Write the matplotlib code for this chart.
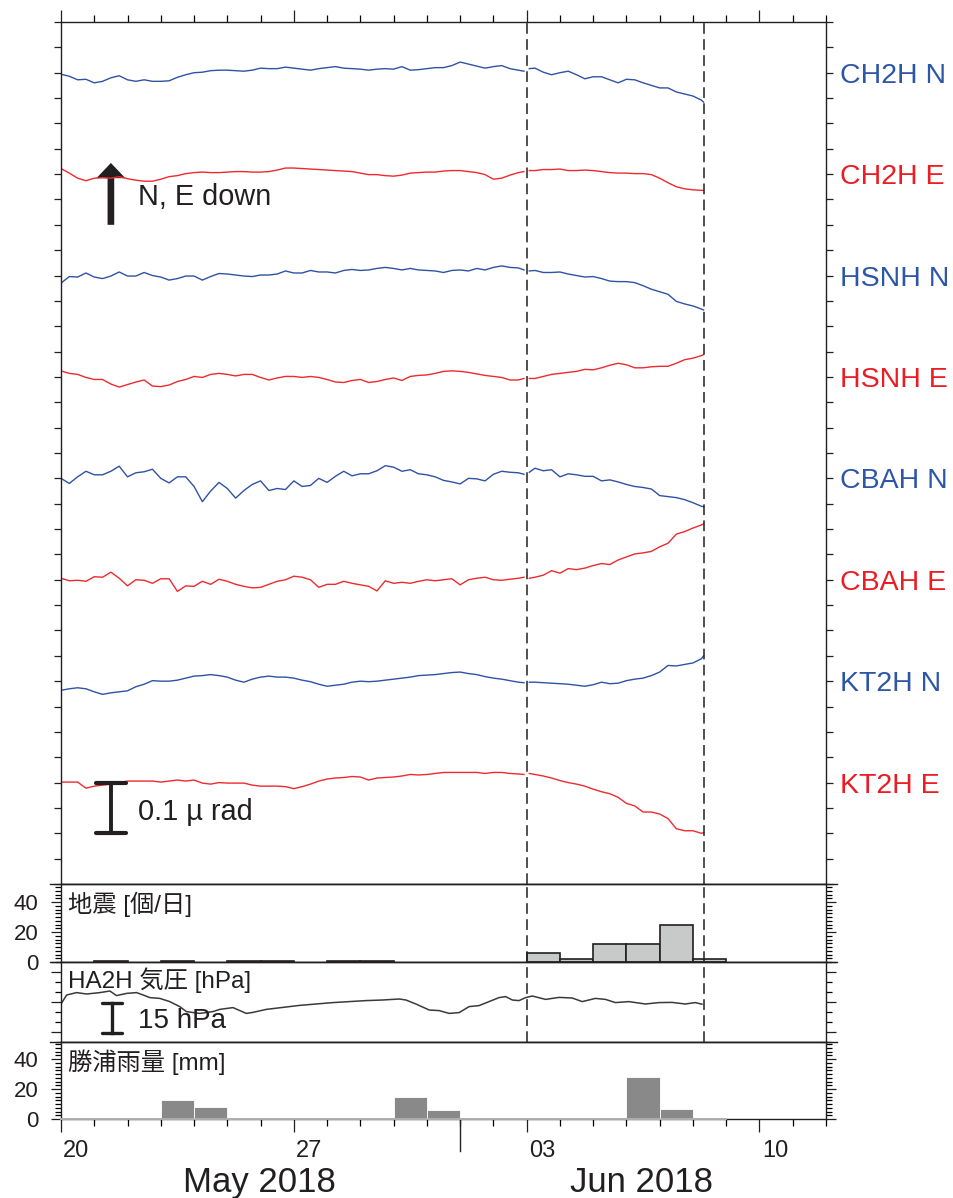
import numpy as np
import matplotlib
matplotlib.use('Agg')
import matplotlib.pyplot as plt
from matplotlib.ticker import MultipleLocator, FixedLocator, NullFormatter
import matplotlib.transforms as mtransforms
from matplotlib.lines import Line2D

plt.rcParams['font.family'] = ['Liberation Sans', 'Noto Sans CJK JP', 'DejaVu Sans']

INK = '#231f20'
BLUE = '#2f52a4'
RED = '#ee2a2e'
BLUE_TXT = '#2e56a6'
RED_TXT = '#ec1c24'

START = np.datetime64('2018-05-20')


def day(d):
    return (np.datetime64(d) - START) / np.timedelta64(1, 'D')


# ---- tilt data (nrad, relative to each trace's baseline) ----
# sampling: segment A up to 3 Jun gap, segment B after
DAYS_A = np.r_[np.arange(0, 13.8, 0.25), 13.92]
DAYS_B = np.r_[14.08, np.arange(14.25, 19.26, 0.25), 19.32]
N_A = len(DAYS_A)

TRACE_NAMES = ['CH2H N', 'CH2H E', 'HSNH N', 'HSNH E',
               'CBAH N', 'CBAH E', 'KT2H N', 'KT2H E']

CH2H_N = [-3, -7, -14, -13, -20, -17, -10, -6, -14, -17, -14, -17, -17, -16, -9,
          -4, 0, 1, 4, 5, 5, 4, 3, 5, 9, 8, 8, 11, 9, 7, 5, 8, 10, 12, 9, 8, 7, 5,
          7, 8, 7, 12, 5, 6, 8, 10, 10, 14, 21, 17, 13, 9, 12, 14, 8, 5, 3,
          8, 9, 1, -4, 0, 3, -4, -12, -8, -8, -14, -20, -13, -14, -20, -25, -30,
          -30, -38, -42, -46, -54, -58]
CH2H_E = [11, 2, -8, -13, -8, -7, -8, -5, -9, -12, -14, -14, -10, -5, -3,
          1, 3, 4, 3, 3, 4, 5, 5, 4, 4, 5, 8, 12, 12, 11, 10, 9, 8, 7, 6, 5, 2,
          -1, -1, -3, -4, -2, 2, 3, 4, 4, 6, 7, 7, 5, 3, -1, -10, -8, -2, 3, 5,
          7, 7, 9, 9, 10, 7, 7, 8, 7, 5, 3, 2, 2, 1, 1, -1, -8, -17, -25, -29,
          -31, -32, -32]
HSNH_N = [-15, -2, -3, 5, -3, -6, -1, 7, -1, -1, 6, 0, -3, -9, -6,
          -1, -1, -9, -2, 4, 3, 1, -1, -2, 1, 1, 3, 9, 5, 5, 10, 7, 7, 5, 10,
          12, 10, 11, 14, 16, 14, 11, 14, 11, 10, 9, 6, 10, 11, 9, 14, 11, 16,
          19, 16, 15, 11,
          9, 10, 6, 6, 7, 3, 0, -3, -2, -6, -11, -12, -12, -14, -20, -27, -32,
          -37, -51, -56, -60, -66, -68]
HSNH_E = [12, 7, 5, -1, -5, -5, -14, -20, -15, -10, -6, -18, -19, -16, -9,
          -5, 1, -1, 5, 7, 5, 2, 5, 5, -1, -6, -2, 1, 1, -1, 1, -1, -5, -10, -11,
          -7, -5, -11, -9, -5, -2, -7, 1, 3, 4, 7, 11, 12, 11, 9, 6, 3, 1, -1,
          -6, -6, -3,
          -3, -3, 1, 5, 7, 9, 11, 15, 14, 18, 23, 27, 24, 18, 18, 20, 21, 21,
          27, 34, 37, 42, 44]
CBAH_N = [0, -10, 3, 14, 7, 7, 14, 24, 3, 11, 13, 18, 0, -9, 3,
          3, -16, -46, -25, -8, -20, -39, -24, -12, -5, -24, -20, -22, -5, -16,
          -14, 0, -8, 4, 14, 5, 9, 9, 15, 25, 22, 14, 17, 9, 7, 3, -4, -7, -11,
          0, -1, -5, 8, 14, 12, 11, 8,
          12, 20, 15, 17, 3, 9, 7, 4, 4, -5, -3, -7, -12, -16, -18, -21, -34,
          -36, -38, -42, -48, -55, -56]
CBAH_E = [3, -2, -1, -3, 6, 5, 15, 3, -12, 0, -1, -7, 2, 2, -23,
          -12, -13, -3, -9, 1, -3, -9, -13, -16, -15, -9, -3, 0, 7, 5, 0, -15,
          -9, -9, -3, -7, -10, -13, -22, -2, -7, -5, -7, -3, 0, -2, 0, 2, -10,
          0, 3, 5, 0, -1, 1, 3, 5,
          3, 5, 9, 18, 13, 22, 20, 23, 28, 32, 30, 39, 45, 51, 53, 56, 65, 72,
          90, 95, 102, 108, 110]
KT2H_N = [-18, -15, -13, -15, -21, -26, -23, -21, -19, -11, -6, 1, 0, 0, 2,
          6, 10, 11, 13, 11, 8, 2, -2, 4, 8, 10, 8, 8, 6, 2, -1, -6, -10, -8,
          -6, -2, 0, -1, 0, 2, 4, 6, 8, 11, 12, 13, 15, 17, 18, 15, 13, 9, 6, 4,
          1, -2, -3,
          -2, -2, -3, -4, -5, -6, -8, -10, -7, -2, -5, -4, 1, 4, 6, 11, 18, 31,
          30, 33, 36, 44, 50]
KT2H_E = [1, 1, 1, -11, -7, -5, -3, 0, 3, 3, 3, 3, 1, 3, 5,
          3, 5, -1, -3, 0, -1, -1, -1, -5, -7, -7, -7, -8, -12, -8, -3, 3, 7, 9,
          10, 12, 11, 5, 9, 10, 11, 13, 16, 15, 16, 18, 20, 20, 20, 20, 20, 18,
          20, 20, 18, 17, 16,
          18, 16, 13, 9, 4, 0, -3, -7, -13, -18, -22, -29, -41, -46, -58, -58,
          -62, -71, -91, -95, -95, -100, -99]

TRACES = [CH2H_N, CH2H_E, HSNH_N, HSNH_E, CBAH_N, CBAH_E, KT2H_N, KT2H_E]
TRACE_OFFSET = 200  # nrad between traces

# ---- earthquakes per day ----
EQ_DATES = ['2018-05-21', '2018-05-23', '2018-05-25', '2018-05-26', '2018-05-28',
            '2018-05-29', '2018-06-03', '2018-06-04', '2018-06-05', '2018-06-06',
            '2018-06-07', '2018-06-08']
EQ_COUNTS = [1, 1, 1, 1, 1, 1, 6, 2, 12, 12, 25, 2]

# ---- HA2H pressure (hPa) ----
P_DAYS = [0, 0.17, 0.47, 0.77, 1.17, 1.47, 1.67, 1.97, 2.27, 2.47, 2.67, 2.97,
          3.27, 3.57, 3.77, 4.17, 4.57, 4.77, 5.17, 5.57, 5.77, 6.17, 6.67, 7.17,
          7.67, 8.17, 8.67, 9.17, 9.67, 10.17, 10.37, 10.67, 11.07, 11.37, 11.67,
          11.97, 12.27, 12.57, 12.87, 13.17, 13.37, 13.57, 13.77, 13.97, 14.17,
          14.57, 14.97, 15.37, 15.67, 16.07, 16.37, 16.67, 17.07, 17.57, 17.97,
          18.37, 18.77, 19.07, 19.27]
P_HPA = [1014.0, 1018.5, 1019.7, 1019.0, 1019.7, 1020.5, 1018.2, 1019.3, 1019.7,
         1018.5, 1017.2, 1016.8, 1015.2, 1012.7, 1010.2, 1009.3, 1010.2, 1011.3,
         1012.2, 1009.3, 1009.8, 1011.3, 1012.3, 1013.3, 1014.0, 1014.7, 1015.2,
         1015.7, 1016.0, 1016.5, 1016.0, 1014.0, 1011.0, 1010.7, 1009.3, 1009.7,
         1012.7, 1013.2, 1015.2, 1017.2, 1017.7, 1016.0, 1015.7, 1017.2, 1018.0,
         1016.3, 1017.3, 1017.0, 1015.2, 1016.8, 1016.3, 1014.7, 1015.2, 1014.0,
         1014.7, 1014.8, 1014.0, 1014.7, 1013.9]

# ---- Katsuura rainfall (mm/day) ----
RAIN_DATES = ['2018-05-23', '2018-05-24', '2018-05-30', '2018-05-31',
              '2018-06-06', '2018-06-07']
RAIN_MM = [13, 8, 14.5, 6, 28, 7]

MARK_START = '2018-06-03'
MARK_END = 19.32  # days after 20 May (around 07:40, 8 Jun)

DATE_TICKS = ['2018-05-20', '2018-05-27', '2018-06-03', '2018-06-10']
DATE_LABELS = ['20', '27', '03', '10']

# ---------------------------------------------------------------
W, H = 954, 1198
fig = plt.figure(figsize=(W / 100, H / 100), dpi=100)


def px_axes(left, top, right, bottom):
    return fig.add_axes([left / W, 1 - bottom / H, (right - left) / W, (bottom - top) / H])


ax_main = px_axes(61, 22, 826, 884)
ax_eq = px_axes(61, 884, 826, 962)
ax_p = px_axes(61, 962, 826, 1042)
ax_r = px_axes(61, 1042, 826, 1119)
axes = [ax_main, ax_eq, ax_p, ax_r]

for ax in axes:
    ax.set_xlim(0, 23)
    for s in ax.spines.values():
        s.set_color(INK)
        s.set_linewidth(1.0)
    ax.tick_params(colors=INK, labelcolor=INK)

# ---- main tilt panel ----
ax_main.set_ylim(-1600, 100)
blend_main = mtransforms.blended_transform_factory(ax_main.transAxes, ax_main.transData)
for i, (name, vals) in enumerate(zip(TRACE_NAMES, TRACES)):
    base = -TRACE_OFFSET * i
    vals = np.asarray(vals, dtype=float)
    col = BLUE if name.endswith('N') else RED
    tcol = BLUE_TXT if name.endswith('N') else RED_TXT
    ax_main.plot(DAYS_A, base + vals[:N_A], color=col, lw=1.0)
    ax_main.plot(DAYS_B, base + vals[N_A:], color=col, lw=1.0)
    ax_main.text(1 + 14 / 765, base - 20, name, transform=blend_main, color=tcol,
                 fontsize=20.5, ha='left', va='baseline')

ax_main.yaxis.set_major_locator(MultipleLocator(50))
ax_main.yaxis.set_major_formatter(NullFormatter())
ax_main.tick_params(axis='y', which='both', left=True, right=True, direction='out',
                    length=4.8, width=0.9, labelleft=False, labelright=False)
ax_main.xaxis.set_major_locator(MultipleLocator(7))
ax_main.xaxis.set_minor_locator(MultipleLocator(1))
ax_main.tick_params(axis='x', which='both', bottom=False, top=True, direction='out',
                    labelbottom=False, labeltop=False, width=0.9)
ax_main.tick_params(axis='x', which='major', length=9)
ax_main.tick_params(axis='x', which='minor', length=4.8)

# arrow "N, E down"
ax_main.arrow(1.5, -300, 0, 122, width=0.2, head_width=0.87, head_length=30,
              length_includes_head=True, color=INK, lw=0)
ax_main.text(2.32, -261, 'N, E down', fontsize=20.8, color=INK, ha='left', va='baseline')

# 0.1 µrad scale bar
ax_main.plot([1.5, 1.5], [-1400, -1500], color=INK, lw=2.8)
ax_main.plot([1.05, 1.95], [-1400, -1400], color=INK, lw=3.0, solid_capstyle='round')
ax_main.plot([1.05, 1.95], [-1500, -1500], color=INK, lw=3.0, solid_capstyle='round')
ax_main.text(2.32, -1474, '0.1 µ rad', fontsize=20.8, color=INK, ha='left', va='baseline')

# ---- earthquake panel ----
eq_days = [day(d) for d in EQ_DATES]
ax_eq.bar(eq_days, EQ_COUNTS, width=1, align='edge', facecolor='#c8c9c9',
          edgecolor=INK, linewidth=1.2, zorder=2)
ax_eq.set_ylim(0, 52)

# ---- pressure panel ----
ax_p.plot(P_DAYS, P_HPA, color='#3a3a3a', lw=1.1)
ax_p.set_ylim(995, 1035)
ax_p.plot([1.52, 1.52], [999.7, 1014.7], color=INK, lw=2.4)
ax_p.plot([1.22, 1.82], [1014.7, 1014.7], color=INK, lw=2.4, solid_capstyle='round')
ax_p.plot([1.22, 1.82], [999.7, 999.7], color=INK, lw=2.4, solid_capstyle='round')
ax_p.text(2.32, 1002, '15 hPa', fontsize=20, color=INK, ha='left', va='baseline')

# ---- rain panel ----
rain_days = [day(d) for d in RAIN_DATES]
ax_r.bar(rain_days, RAIN_MM, width=1, align='edge', facecolor='#898989',
         edgecolor='white', linewidth=0.6, zorder=2)
ax_r.set_ylim(0, 51.5)
ax_r.plot([0, 20], [0, 0], color='#b0b0b0', lw=1.4, zorder=3, clip_on=False)

# y ticks of count panels
for ax in (ax_eq, ax_r):
    ax.yaxis.set_major_locator(FixedLocator([0, 20, 40]))
    ax.yaxis.set_minor_locator(MultipleLocator(2.5))
    ax.tick_params(axis='y', which='both', left=True, right=True, direction='out',
                   labelleft=True, labelright=False, labelsize=16, width=0.9)
    ax.tick_params(axis='y', which='major', length=7.2, pad=9)
    ax.tick_params(axis='y', which='minor', length=4.3)

ax_p.yaxis.set_major_locator(FixedLocator([1000, 1015, 1030]))
ax_p.yaxis.set_minor_locator(MultipleLocator(5))
ax_p.tick_params(axis='y', which='both', left=True, right=True, direction='out',
                 labelleft=False, width=0.9)
ax_p.tick_params(axis='y', which='major', length=7.2)
ax_p.tick_params(axis='y', which='minor', length=4.3)

for ax in (ax_eq, ax_p):
    ax.tick_params(axis='x', which='both', bottom=False, top=False,
                   labelbottom=False, labeltop=False)

ax_r.xaxis.set_major_locator(MultipleLocator(7))
ax_r.xaxis.set_minor_locator(MultipleLocator(1))
ax_r.xaxis.set_major_formatter(NullFormatter())
ax_r.tick_params(axis='x', which='both', bottom=True, top=False, direction='out', width=0.9)
ax_r.tick_params(axis='x', which='major', length=9)
ax_r.tick_params(axis='x', which='minor', length=4.8)

blend_r = mtransforms.blended_transform_factory(ax_r.transData, ax_r.transAxes)
# month separator (1 Jun)
ax_r.plot([day('2018-06-01')] * 2, [0, -0.41], transform=blend_r, color=INK, lw=1.0,
          clip_on=False)
for d, lab in zip(DATE_TICKS, DATE_LABELS):
    ax_r.text(day(d) + 0.07, -0.489, lab, transform=blend_r, fontsize=17, color=INK,
              ha='left', va='baseline')
ax_r.text(5.98, -0.944, 'May 2018', transform=blend_r, fontsize=25, color=INK,
          ha='center', va='baseline')
ax_r.text(17.46, -0.944, 'Jun 2018', transform=blend_r, fontsize=25, color=INK,
          ha='center', va='baseline')

# panel titles
ax_eq.text(7 / 765, 0.645, '地震 [個/日]', transform=ax_eq.transAxes, fontsize=17.5,
           color=INK, ha='left', va='baseline')
ax_p.text(7 / 765, 0.671, 'HA2H 気圧 [hPa]', transform=ax_p.transAxes, fontsize=17.5,
          color=INK, ha='left', va='baseline')
ax_r.text(7 / 765, 0.636, '勝浦雨量 [mm]', transform=ax_r.transAxes, fontsize=17.5,
          color=INK, ha='left', va='baseline')

# dashed markers
for ax in (ax_main, ax_eq, ax_p):
    for xv in (day(MARK_START), MARK_END):
        ax.axvline(xv, color=INK, lw=1.1, linestyle=(0, (7, 3.5)), zorder=4)

# extended panel boundaries
for yy in (884, 962, 1042):
    fig.add_artist(Line2D([50 / W, 837 / W], [1 - yy / H, 1 - yy / H], color=INK, lw=1.0,
                          transform=fig.transFigure))

fig.savefig('out.png', dpi=100, facecolor='white')
